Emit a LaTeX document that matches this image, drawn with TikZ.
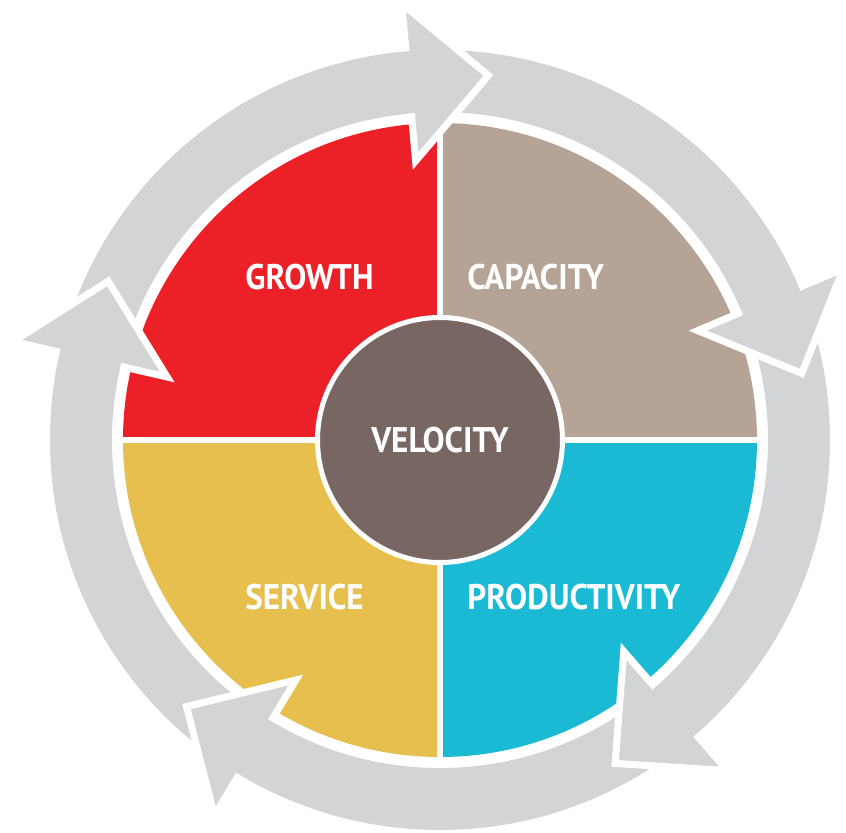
\documentclass[tikz,border=0pt]{standalone}
\usepackage{fontspec}
\setmainfont[FakeStretch=0.93]{PT Sans}
\definecolor{ringgray}{RGB}{211,212,214}
\definecolor{growthred}{RGB}{236,32,39}
\definecolor{capacitytan}{RGB}{181,163,149}
\definecolor{productcyan}{RGB}{26,186,212}
\definecolor{serviceyellow}{RGB}{231,191,78}
\definecolor{velobrown}{RGB}{120,102,98}
\begin{document}
\begin{tikzpicture}[x=0.5pt,y=0.5pt,
	quadtext/.style={anchor=west,inner sep=0pt,text=white,font=\fontsize{17.8}{20}\selectfont\bfseries},
	headshape/.style={fill=ringgray,draw=white,line width=3.5pt,line join=miter}]
	\useasboundingbox (-440,-392) rectangle (406,440);
	\fill[ringgray,even odd rule] (0,0) circle (390) (0,0) circle (328);
	\fill[growthred] (0,0) -- (180:317) arc[start angle=180,end angle=90,radius=317] -- cycle;
	\fill[capacitytan] (0,0) -- (90:317) arc[start angle=90,end angle=0,radius=317] -- cycle;
	\fill[productcyan] (0,0) -- (0:317) arc[start angle=0,end angle=-90,radius=317] -- cycle;
	\fill[serviceyellow] (0,0) -- (-90:317) arc[start angle=-90,end angle=-180,radius=317] -- cycle;
	\draw[white,line width=3pt] (-320,0) -- (320,0) (0,-320) -- (0,320);
	\node[circle,fill=velobrown,draw=white,line width=2.5pt,minimum size=122.5pt,inner sep=0pt,
		text=white,font=\fontsize{17.8}{20}\selectfont\bfseries] (velocity) at (0,0) {VELOCITY};
	\node[quadtext] (growth) at (-195,162.5) {GROWTH};
	\node[quadtext] (capacity) at (27,162.5) {CAPACITY};
	\node[quadtext] (service) at (-195,-157.5) {SERVICE};
	\node[quadtext] (productivity) at (27,-157.5) {PRODUCTIVITY};
	\foreach \a in {95,23,-49,-121,-193} {
		\path[headshape] (\a:438) -- ([shift={(\a-90:80)}]\a:359) -- (\a:280) -- cycle;
		\fill[ringgray] (\a+8:390) arc[start angle=\a+8,end angle=\a-1,radius=390]
			-- (\a-1:328) arc[start angle=\a-1,end angle=\a+8,radius=328] -- cycle;
	}
\end{tikzpicture}
\end{document}
